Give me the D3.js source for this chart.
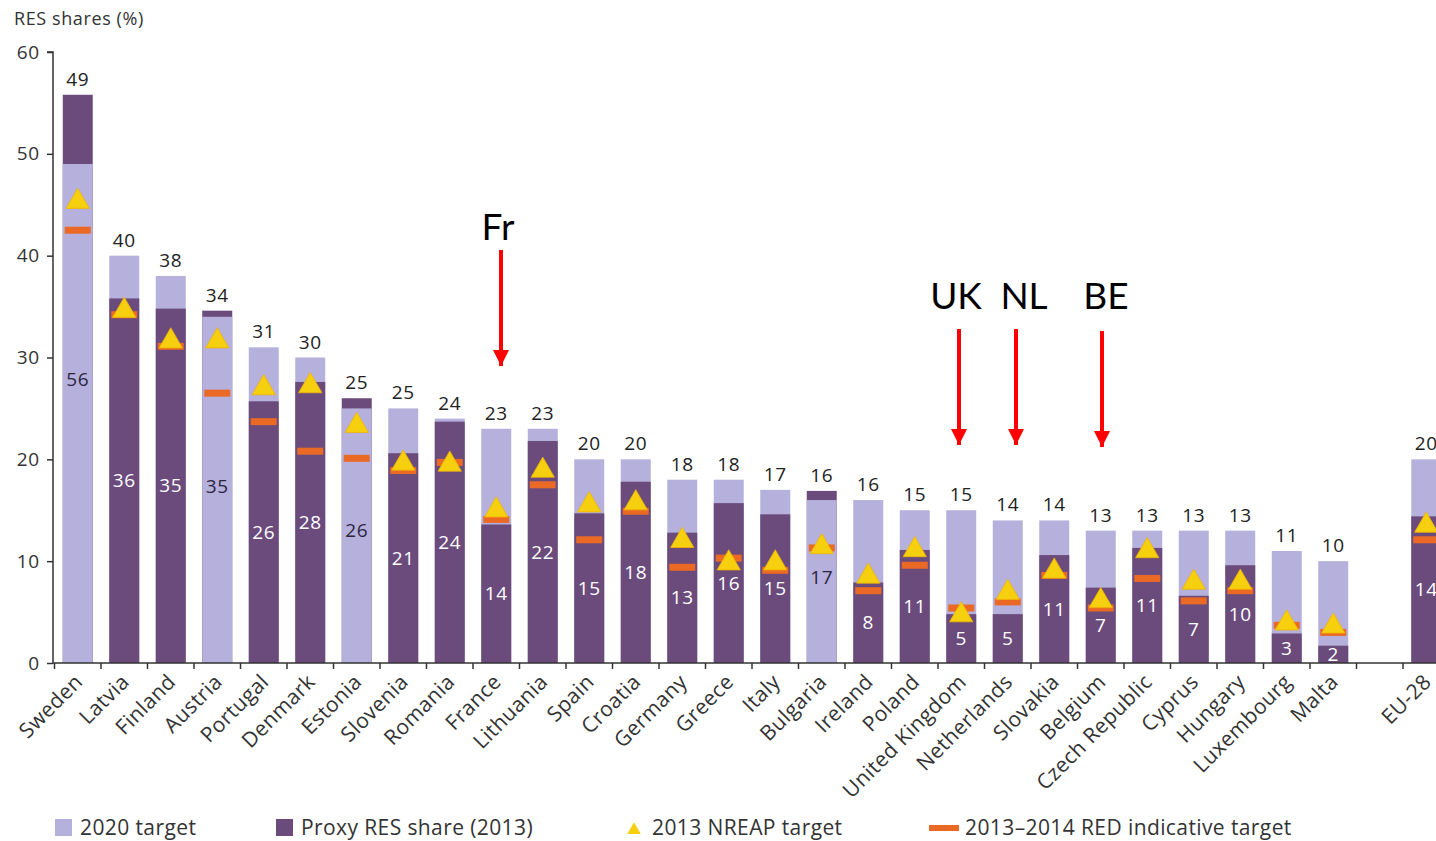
<!DOCTYPE html>
<html>
<head>
<meta charset="utf-8">
<title>RES shares</title>
<script src="https://d3js.org/d3.v7.min.js"></script>
<style>
 body { margin: 0; background: #fff; }
 svg { display: block; font-family: "Open Sans", sans-serif; }
</style>
</head>
<body>
<svg width="1436" height="841"></svg>
<script>
// data ("" = empty slot before EU-28)
const countries = ["Sweden", "Latvia", "Finland", "Austria", "Portugal", "Denmark", "Estonia", "Slovenia",
  "Romania", "France", "Lithuania", "Spain", "Croatia", "Germany", "Greece", "Italy", "Bulgaria", "Ireland",
  "Poland", "United Kingdom", "Netherlands", "Slovakia", "Belgium", "Czech Republic", "Cyprus", "Hungary",
  "Luxembourg", "Malta", "", "EU-28"];
const target2020 = [49, 40, 38, 34, 31, 30, 25, 25, 24, 23, 23, 20, 20, 18, 18, 17, 16, 16, 15, 15, 14, 14,
  13, 13, 13, 13, 11, 10, null, 20];
const proxy2013 = [55.8, 35.8, 34.8, 34.6, 25.7, 27.6, 26.0, 20.6, 23.7, 13.6, 21.8, 14.7, 17.8, 12.8, 15.7,
  14.6, 16.9, 7.9, 11.1, 4.8, 4.8, 10.6, 7.4, 11.3, 6.6, 9.6, 2.9, 1.7, null, 14.4];
const nreap2013 = [45.3, 34.6, 31.6, 31.6, 27.0, 27.2, 23.3, 19.6, 19.5, 15.0, 18.9, 15.5, 15.7, 12.0, 9.8,
  9.8, 11.4, 8.5, 11.1, 4.7, 6.9, 9.0, 6.1, 11.0, 7.9, 7.9, 3.9, 3.6, null, 13.5];
const red1314 = [42.5, 34.2, 31.1, 26.5, 23.7, 20.8, 20.1, 18.9, 19.7, 14.1, 17.5, 12.1, 14.9, 9.4, 10.3,
  9.1, 11.3, 7.1, 9.6, 5.4, 6.0, 8.6, 5.4, 8.3, 6.1, 7.1, 3.7, 3.0, null, 12.1];
const yTicks = [0, 10, 20, 30, 40, 50, 60];
const legendItems = ["2020 target", "Proxy RES share (2013)", "2013 NREAP target", "2013\u20132014 RED indicative target"];
// hand-drawn annotations: text, text centre, arrow x, arrow top / tip, baseline
const notes = [
  {text: "Fr", tx: 498, ax: 501, base: 240, y1: 250, y2: 366},
  {text: "UK", tx: 956, ax: 959, base: 309, y1: 329, y2: 445},
  {text: "NL", tx: 1024, ax: 1016, base: 309, y1: 329, y2: 445},
  {text: "BE", tx: 1106, ax: 1102, base: 309, y1: 331, y2: 447}
];

const light = "#b6b0dc", dark = "#6a4b7c", yellow = "#f6cf0e", orange = "#ea6a25";

const svg = d3.select("svg");
const keys = countries.map(c => c === "" ? "gap" : c);
const rows = keys.map((k, i) => ({key: k, name: countries[i], target: target2020[i], proxy: proxy2013[i],
  nreap: nreap2013[i], red: red1314[i]})).filter(d => d.target != null);

const x = d3.scaleBand().domain(keys).range([54.5, 54.5 + keys.length * 46.5])
  .paddingInner(0.355).paddingOuter(0.1775);
const y = d3.scaleLinear().domain([0, 60]).range([663, 52]);
const bw = x.bandwidth();
const cx = k => x(k) + bw / 2;

// y axis
const yAxis = svg.append("g").attr("transform", "translate(53,0)")
  .call(d3.axisLeft(y).tickValues(yTicks).tickSize(6).tickPadding(7));
yAxis.select(".domain").attr("d", `M-6,${y(60)}H0V${y(0)}`);
yAxis.selectAll("path, line").attr("stroke", "#333").attr("stroke-width", 1.5);
yAxis.selectAll("text").attr("font-family", "Open Sans").attr("font-size", 19).attr("fill", "#333")
  .attr("letter-spacing", 0.8);

svg.append("text").attr("x", 14).attr("y", 25).attr("font-size", 18).attr("fill", "#333")
  .attr("letter-spacing", 0.6).text("RES shares (%)");

// bars: taller series first, shorter one on top
const bars = svg.append("g");
rows.forEach(d => {
  const parts = [{v: d.target, c: light}, {v: d.proxy, c: dark}].sort((a, b) => b.v - a.v);
  bars.selectAll(null).data(parts).join("rect")
    .attr("x", x(d.key)).attr("width", bw)
    .attr("y", p => y(p.v)).attr("height", p => y(0) - y(p.v))
    .attr("fill", p => p.c);
});

// RED indicative dash
svg.append("g").selectAll("rect").data(rows).join("rect")
  .attr("x", d => x(d.key) + 2).attr("width", bw - 4)
  .attr("y", d => y(d.red) - 3.5).attr("height", 7)
  .attr("fill", orange);

// NREAP triangle
const tri = d3.symbol().type(d3.symbolTriangle).size(235);
svg.append("g").selectAll("path").data(rows).join("path")
  .attr("d", tri)
  .attr("transform", d => `translate(${cx(d.key)},${y(d.nreap)})`)
  .attr("fill", yellow).attr("stroke", "#f0b400").attr("stroke-width", 0.8);

// value labels
svg.append("g").selectAll("text").data(rows).join("text")
  .attr("x", d => cx(d.key)).attr("y", d => y(Math.max(d.target, d.proxy)) - 9)
  .attr("text-anchor", "middle").attr("font-size", 19).attr("fill", "#222")
  .attr("letter-spacing", 0.6)
  .text(d => d.target);
svg.append("g").selectAll("text").data(rows).join("text")
  .attr("x", d => cx(d.key)).attr("y", d => y(d.proxy / 2))
  .attr("dy", "0.35em").attr("text-anchor", "middle").attr("font-size", 19)
  .attr("letter-spacing", 0.6)
  .attr("fill", d => d.proxy > d.target ? "#2b2640" : "#fff")
  .text(d => Math.round(d.proxy));

// x axis
const step = x.step();
const xa = svg.append("g");
xa.append("line").attr("x1", 53).attr("x2", 1436).attr("y1", y(0)).attr("y2", y(0))
  .attr("stroke", "#333").attr("stroke-width", 1.5);
xa.selectAll(".tk").data(d3.range(keys.length + 1)).join("line").attr("class", "tk")
  .attr("x1", i => 54.5 + i * step).attr("x2", i => 54.5 + i * step)
  .attr("y1", y(0)).attr("y2", y(0) + 6).attr("stroke", "#333").attr("stroke-width", 1.5);
xa.selectAll("text").data(rows).join("text")
  .attr("transform", d => `translate(${cx(d.key) + 1},${y(0) + 15}) rotate(-45)`)
  .attr("text-anchor", "end").attr("dy", "0.35em").attr("font-size", 21).attr("fill", "#333")
  .attr("letter-spacing", 0.4)
  .text(d => d.name);

// legend
const lg = svg.append("g").attr("font-size", 21).attr("fill", "#333").attr("letter-spacing", 0.4);
const lx = [55, 276, 627, 929];
lg.append("rect").attr("x", lx[0]).attr("y", 819).attr("width", 17).attr("height", 17).attr("fill", light);
lg.append("rect").attr("x", lx[1]).attr("y", 819).attr("width", 17).attr("height", 17).attr("fill", dark);
lg.append("path").attr("d", d3.symbol().type(d3.symbolTriangle).size(80))
  .attr("transform", `translate(${lx[2] + 7},830)`).attr("fill", yellow);
lg.append("rect").attr("x", lx[3]).attr("y", 825).attr("width", 30).attr("height", 6).attr("fill", orange);
const tx = [80, 301, 652, 965];
lg.selectAll("text").data(legendItems).join("text")
  .attr("x", (d, i) => tx[i]).attr("y", 835).text(d => d);

// annotations
const defs = svg.append("defs");
defs.append("marker").attr("id", "head").attr("viewBox", "0 0 10 10").attr("refX", 10).attr("refY", 5)
  .attr("markerUnits", "userSpaceOnUse").attr("markerWidth", 16).attr("markerHeight", 16).attr("orient", "auto")
  .append("path").attr("d", "M0,0L10,5L0,10Z").attr("fill", "#ff0000");
const an = svg.append("g");
an.selectAll("text").data(notes).join("text")
  .attr("x", n => n.tx).attr("y", n => n.base).attr("text-anchor", "middle")
  .attr("font-family", "Lato").attr("font-size", 37).attr("fill", "#000").text(n => n.text);
an.selectAll("line").data(notes).join("line")
  .attr("x1", n => n.ax).attr("x2", n => n.ax).attr("y1", n => n.y1).attr("y2", n => n.y2)
  .attr("stroke", "#ff0000").attr("stroke-width", 4).attr("marker-end", "url(#head)");
</script>
</body>
</html>
